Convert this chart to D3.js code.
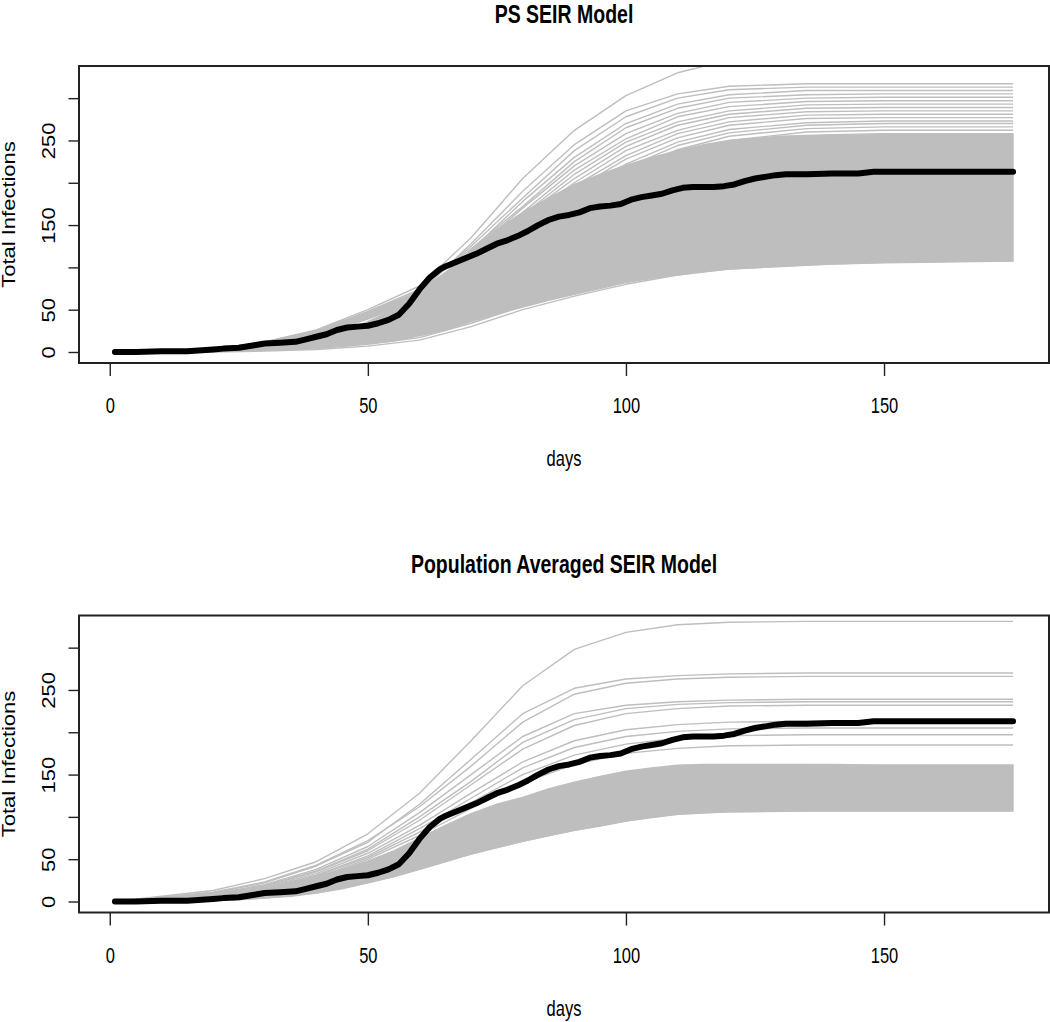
<!DOCTYPE html>
<html><head><meta charset="utf-8">
<script src="https://cdn.jsdelivr.net/npm/d3@7"></script>
<style>
html,body{margin:0;padding:0;background:#fff;}
svg{display:block;}
text{font-family:"Liberation Sans",Arial,Helvetica,sans-serif;fill:#000;}
</style></head>
<body>
<div id="chart"></div>
<script>
// ---------------- data ----------------
const panelTitles = ["PS SEIR Model", "Population Averaged SEIR Model"];
const xLabel = "days";
const yLabel = "Total Infections";
const xTicks = [0, 50, 100, 150];
const yTicks = [0, 50, 100, 150, 200, 250, 300];
const yTickLabels = [0, 50, 150, 250];

// observed (black) curve
const blackDays = [1,5,10,15,20,22,25,28,30,33,36,38,40,42,44,46,48,50,52,54,56,58,60,62,64,65,67,69,71,73,75,77,79,81,83,85,87,89,91,93,95,97,99,101,103,105,107,109,111,113,115,117,119,121,123,125,127,129,131,135,140,145,148,150,160,175];
const blackVals = [0,0,1,1,3,4,5,8,10,11,12,15,18,21,26,29,30,31,34,38,44,57,74,88,98,101,106,111,116,122,128,132,137,143,150,156,160,162,165,170,172,173,175,180,183,185,187,191,194,195,195,195,196,198,202,205,207,209,210,210,211,211,213,213,213,213];

// dense band of simulated runs (lower / upper edge), read at these days
const bandDays = [1,10,20,25,30,35,40,45,50,55,60,65,70,75,80,85,90,95,100,105,110,115,120,130,140,150,175];
const psBandLow  = [0,0,0.5,1,2,3,5,7,10,13,19,26,36,45,53,61,68,75,82,87,91,95,98,101,104,105.5,107.5];
const psBandHigh = [0,0,2,6,10,13,17,24,36,50,72,92,120,145,165,182,198,210,221,230,238,245,250,255,257,258,258];
const paBandLow  = [0,0,1,2,4,6,10,15,22,29,38,47,56,64,71,78,84,89,95,100,103,105,106,107,107,107,107];
const paBandHigh = [0,2,7,11,16,22,30,38,48,60,75,90,104,115,123,133,141,148,154,158,161,162,162,162,162,161,161];

// individual runs read at these days
const runDays = [1,20,30,40,50,60,70,80,90,100,110,120,135,150,175];
const psRuns = [
  [0,3,12,26,50,78,135,205,262,303,330,345,352,352,352],
  [0,2,10,22,45,70,128,190,245,285,305,314,317,317,317],
  [0,3,11,24,47,72,125,182,238,278,300,310,313,313,313],
  [0,2,9,20,42,66,120,178,230,270,293,304,309,309,309],
  [0,3,12,25,48,74,122,172,225,265,288,300,304,305,305],
  [0,2,10,21,44,68,118,170,220,258,282,295,300,301,301],
  [0,3,11,23,46,70,115,165,215,252,278,290,296,297,297],
  [0,2,9,20,40,64,112,162,210,248,272,285,292,293,293],
  [0,3,12,24,47,72,116,160,205,243,268,281,288,289,289],
  [0,2,10,21,43,66,110,156,200,238,262,277,284,285,285],
  [0,3,11,22,45,69,108,152,196,232,258,272,280,281,281],
  [0,2,9,19,40,63,105,150,192,228,253,268,276,277,277],
  [0,3,10,22,44,68,106,146,188,222,248,263,271,273,273],
  [0,2,11,21,42,65,103,143,184,218,244,259,268,270,270],
  [0,3,10,20,41,64,100,140,180,214,239,255,264,266,266],
  [0,2,9,19,39,62,98,137,176,209,234,250,260,262,262],
  [0,0,1,3,7,14,30,50,66,80,91,98,103,106,108],
  [0,1,2,4,9,17,34,54,70,84,94,101,106,109,110],
  [0,1,3,5,11,20,38,58,74,88,98,105,110,113,114]
];
const paRuns = [
  [0,13,27,47,80,128,190,255,298,318,327,330,331,331,331],
  [0,10,22,42,70,115,168,222,252,263,267,269,270,270,270],
  [0,11,23,43,72,112,160,212,245,258,263,265,266,266,266],
  [0,9,20,38,65,105,150,195,222,232,236,238,239,239,239],
  [0,8,19,36,62,100,142,188,215,228,233,235,236,236,236],
  [0,9,18,35,60,96,138,180,208,222,228,231,232,232,232],
  [0,8,17,33,57,90,128,165,190,203,209,212,213,213,213],
  [0,7,16,31,54,86,122,158,182,195,201,204,205,205,205],
  [0,7,15,30,52,82,117,150,173,186,193,196,197,197,197],
  [0,6,14,28,50,78,110,140,162,175,181,184,185,185,185],
  [0,3,8,18,40,70,100,122,140,152,158,160,161,161,161],
  [0,1,4,10,22,38,56,71,84,95,103,106,107,107,107]
];

// ---------------- drawing ----------------
const W = 1050, H = 1022;
const svg = d3.select("#chart").append("svg").attr("width", W).attr("height", H);
svg.append("rect").attr("width", W).attr("height", H).attr("fill", "#fff");

const pad = (a, b) => { const r = b - a; return [a - 0.04 * r, b + 0.04 * r]; };
const x = d3.scaleLinear().domain(pad(1, 175)).range([79, 1049]);
const GREY = "#bebebe";
const SX = 0.75;

const panels = [
  {title: panelTitles[0], top: 66, bottom: 363, low: psBandLow, high: psBandHigh, runs: psRuns},
  {title: panelTitles[1], top: 615.5, bottom: 912.5, low: paBandLow, high: paBandHigh, runs: paRuns}
];

panels.forEach((p, i) => {
  const y = d3.scaleLinear().domain(pad(0, 325)).range([p.bottom, p.top]);
  const g = svg.append("g");
  const clipId = "clip" + i;
  g.append("clipPath").attr("id", clipId).append("rect")
    .attr("x", x.range()[0]).attr("y", p.top)
    .attr("width", x.range()[1] - x.range()[0]).attr("height", p.bottom - p.top);
  const plot = g.append("g").attr("clip-path", `url(#${clipId})`);

  // dense band
  const band = bandDays.map((d, k) => ({d, lo: p.low[k], hi: p.high[k]}));
  plot.append("path").datum(band)
    .attr("d", d3.area().x(v => x(v.d)).y0(v => y(v.lo)).y1(v => y(v.hi)))
    .attr("fill", GREY).attr("stroke", GREY).attr("stroke-width", 1.3);

  // individual runs
  const runLine = d3.line().x((v, k) => x(runDays[k])).y(v => y(v));
  plot.selectAll("path.run").data(p.runs).enter().append("path")
    .attr("class", "run")
    .attr("d", runLine)
    .attr("fill", "none").attr("stroke", GREY).attr("stroke-width", 1.4)
    .attr("stroke-linejoin", "round");

  // observed
  const obs = blackDays.map((d, k) => [d, blackVals[k]]);
  plot.append("path").datum(obs)
    .attr("d", d3.line().x(v => x(v[0])).y(v => y(v[1])))
    .attr("fill", "none").attr("stroke", "#000").attr("stroke-width", 6)
    .attr("stroke-linejoin", "round").attr("stroke-linecap", "round");

  // x axis
  const xa = g.append("g").attr("transform", `translate(0,${p.bottom})`)
    .call(d3.axisBottom(x).tickValues(xTicks).tickSize(13).tickSizeOuter(0));
  xa.select(".domain").remove();
  xa.selectAll(".tick line").attr("stroke", "#222").attr("stroke-width", 1.4);
  xa.selectAll(".tick text")
    .attr("y", 0).attr("dy", 0)
    .attr("transform", `translate(0,50) scale(${SX},1)`)
    .attr("font-size", 22).attr("font-family", null).attr("fill", "#000")
    .attr("text-anchor", "middle");

  // y axis
  const ya = g.append("g").attr("transform", `translate(${x.range()[0]},0)`)
    .call(d3.axisLeft(y).tickValues(yTicks).tickSize(10.5).tickSizeOuter(0)
      .tickFormat(d => yTickLabels.includes(d) ? d : ""));
  ya.select(".domain").remove();
  ya.selectAll(".tick line").attr("stroke", "#222").attr("stroke-width", 1.4);
  ya.selectAll(".tick text")
    .attr("x", 0).attr("dy", 0)
    .attr("transform", `translate(-24,0) scale(0.8,1) rotate(-90)`)
    .attr("font-size", 22).attr("font-family", null).attr("fill", "#000")
    .attr("text-anchor", "middle");

  // box
  g.append("rect").attr("x", x.range()[0]).attr("y", p.top)
    .attr("width", x.range()[1] - x.range()[0]).attr("height", p.bottom - p.top)
    .attr("fill", "none").attr("stroke", "#222").attr("stroke-width", 2);

  const cx = (x.range()[0] + x.range()[1]) / 2;
  // title
  g.append("text").attr("transform", `translate(${cx},${p.top - 43}) scale(${SX},1)`)
    .attr("text-anchor", "middle").attr("font-weight", "bold").attr("font-size", 26)
    .text(p.title);
  // x label
  g.append("text").attr("transform", `translate(${cx},${p.bottom + 103}) scale(${SX},1)`)
    .attr("text-anchor", "middle").attr("font-size", 22).text(xLabel);
  // y label
  g.append("text").attr("transform", `translate(15,${(p.top + p.bottom) / 2}) scale(0.8,1) rotate(-90)`)
    .attr("text-anchor", "middle").attr("font-size", 22).text(yLabel);
});
</script>
</body></html>
